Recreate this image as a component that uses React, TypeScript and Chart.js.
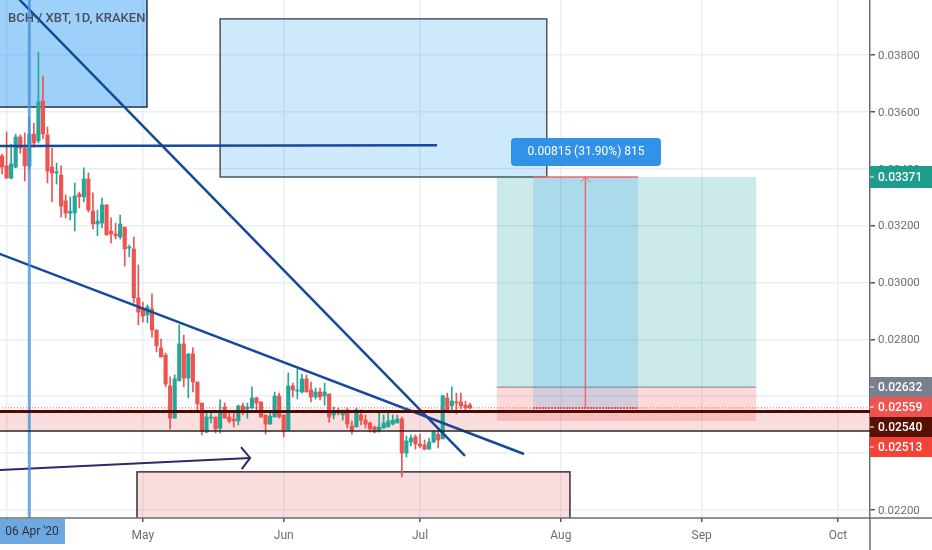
import { useEffect, useRef } from "react";
import { Chart, registerables } from "chart.js";

Chart.register(...registerables);

// days are counted from 1 Apr 2020, first candle is 31 Mar
const firstDay = -1;
const opens = [0.03445,0.0341,0.03367,0.03406,0.03512,0.03473,0.0341,0.03522,0.03498,0.03638,0.03519,0.03406,0.03385,0.03378,0.03287,0.03244,0.03244,0.03311,0.03301,0.03364,0.03251,0.03206,0.03209,0.03273,0.03181,0.03171,0.0316,0.03195,0.03121,0.03118,0.02946,0.0291,0.02886,0.02907,0.02833,0.0277,0.02745,0.02636,0.02523,0.02654,0.02784,0.02664,0.02749,0.0265,0.02576,0.02474,0.02523,0.02527,0.02488,0.02562,0.02527,0.0252,0.02513,0.02566,0.02555,0.02559,0.02594,0.0258,0.02534,0.02502,0.02527,0.02601,0.02534,0.02481,0.02636,0.02618,0.02615,0.02661,0.02622,0.02597,0.02615,0.02601,0.02608,0.02534,0.02545,0.02534,0.02552,0.02495,0.02492,0.02534,0.02516,0.02506,0.02492,0.02478,0.02488,0.02492,0.02502,0.02506,0.0252,0.024,0.02439,0.02457,0.02432,0.02429,0.02414,0.02439,0.02467,0.0245,0.02594,0.02566,0.0258,0.0258,0.02569,0.02569];
const highs = [0.03452,0.03529,0.03487,0.03522,0.03519,0.03526,0.03582,0.03561,0.0381,0.03726,0.03547,0.03473,0.0342,0.0341,0.03308,0.03301,0.0335,0.03318,0.03403,0.03385,0.03315,0.03255,0.03297,0.03273,0.03227,0.03209,0.03237,0.03195,0.03132,0.0316,0.03062,0.02931,0.02921,0.0296,0.02833,0.02801,0.02752,0.02668,0.02675,0.02851,0.02815,0.02749,0.0277,0.0265,0.02576,0.02541,0.02541,0.02527,0.02587,0.02576,0.02541,0.02541,0.02569,0.02576,0.02576,0.02633,0.02597,0.0258,0.02534,0.02548,0.02615,0.02611,0.02534,0.02682,0.02646,0.02696,0.02678,0.02675,0.0265,0.02629,0.02629,0.02646,0.02608,0.02562,0.02559,0.02552,0.02559,0.02513,0.02559,0.02552,0.02534,0.02509,0.02495,0.02541,0.02534,0.02541,0.02534,0.02534,0.02527,0.0246,0.02464,0.02464,0.02467,0.02446,0.02453,0.02478,0.02478,0.02604,0.02611,0.02633,0.02611,0.02611,0.02583,0.02576];
const lows = [0.03382,0.03367,0.03364,0.03403,0.03455,0.03357,0.03396,0.03476,0.03491,0.03505,0.0335,0.03283,0.03346,0.0323,0.03227,0.0322,0.03181,0.03262,0.03283,0.03248,0.03188,0.03164,0.03192,0.03167,0.03139,0.03153,0.03153,0.03058,0.0309,0.02928,0.02851,0.02861,0.02858,0.02808,0.02756,0.02738,0.02633,0.02485,0.02523,0.02654,0.02633,0.02594,0.02615,0.02545,0.02464,0.02471,0.02506,0.02471,0.02471,0.02523,0.02506,0.02492,0.02499,0.02534,0.02523,0.02555,0.02548,0.02527,0.02467,0.02502,0.02527,0.02523,0.02457,0.02481,0.02597,0.0259,0.02611,0.02615,0.0258,0.0259,0.02587,0.02569,0.02509,0.0252,0.02534,0.02516,0.02488,0.02467,0.02492,0.02499,0.02488,0.02474,0.02471,0.02474,0.02488,0.02492,0.02499,0.02506,0.02316,0.02386,0.02425,0.02414,0.02418,0.02411,0.02414,0.02436,0.02418,0.0245,0.02552,0.02552,0.02538,0.02555,0.02552,0.02555];
const closes = [0.03406,0.03367,0.03417,0.03512,0.03473,0.0341,0.03522,0.03491,0.03635,0.03522,0.03392,0.03385,0.03389,0.03269,0.03244,0.03251,0.03304,0.03301,0.03364,0.03255,0.03206,0.03216,0.03273,0.03167,0.03171,0.03164,0.03206,0.03118,0.03125,0.02946,0.02896,0.02882,0.02914,0.02833,0.02777,0.02738,0.02643,0.02523,0.02661,0.02784,0.02664,0.02749,0.0265,0.02573,0.02478,0.02527,0.02527,0.02485,0.02548,0.02523,0.02513,0.02513,0.02566,0.02548,0.02562,0.02594,0.02576,0.02527,0.02502,0.0253,0.02601,0.02527,0.02481,0.02636,0.02622,0.02622,0.02661,0.02615,0.02597,0.02615,0.02597,0.02615,0.02527,0.02548,0.02541,0.02548,0.02502,0.02478,0.02552,0.02516,0.02502,0.02485,0.02474,0.02492,0.02506,0.02513,0.02516,0.0252,0.024,0.02443,0.02453,0.02432,0.02425,0.02414,0.02439,0.02474,0.02446,0.02601,0.02552,0.02583,0.02576,0.02566,0.02559,0.02559];

const monthDays = [0, 30, 61, 91, 122, 153, 183];
const monthNames = ["Apr", "May", "Jun", "Jul", "Aug", "Sep", "Oct"];
const priceTicks = [0.022, 0.024, 0.026, 0.028, 0.03, 0.032, 0.034, 0.036, 0.038];

const trendSteep = [[1.85, 0.04011], [100.9, 0.0239]];
const trendFlat = [[-2.55, 0.03107], [113.9, 0.02397]];
const levelLine = [[-2.55, 0.0348], [94.75, 0.03483]];
const arrowShaft = [[-2.55, 0.0234], [53.6, 0.02383]];
const arrowHead = [[51.6, 0.02421], [53.6, 0.02383], [51.75, 0.02344]];
const markerDay = [[5, 0.0405], [5, 0.0212]];
const lastPriceLine = [[-3, 0.02559], [192, 0.02559]];
const bandTop = [[-3, 0.02546], [192, 0.02546]];
const bandBottom = [[-3, 0.02478], [192, 0.02478]];
const positionMid = [[107.9, 0.02632], [165, 0.02632]];
const rangeTop = [[115.9, 0.03371], [139, 0.03371]];
const rangeBottom = [[115.9, 0.02559], [139, 0.02559]];
const rangeShaft = [[127.4, 0.02559], [127.4, 0.03371]];
const rangeHead = [[126.4, 0.03353], [127.4, 0.03371], [128.6, 0.03353]];

// [day from, day to, price top, price bottom]
const boxTopLeft = [-3, 30.9, 0.0405, 0.03617];
const boxBlue = [47, 118.9, 0.03927, 0.03371];
const boxPink = [28.7, 124, 0.02334, 0.0212];
const boxBand = [-3, 192, 0.02546, 0.02478];
const boxProfit = [107.9, 165, 0.03371, 0.02632];
const boxStop = [107.9, 165, 0.02632, 0.02513];
const boxRange = [115.9, 139, 0.03371, 0.02559];

const UP = "#26a69a";
const DOWN = "#ef5350";
const FONT = "Roboto";

const toPoints = (pts: number[][]) => pts.map(([x, y]) => ({ x, y }));

const line = (pts: number[][], color: string, width: number, dash: number[] = []) => ({
  type: "line" as const,
  data: toPoints(pts),
  borderColor: color,
  borderWidth: width,
  borderDash: dash,
  pointRadius: 0,
  tension: 0,
  fill: false,
  order: 0,
});

const overlayPlugin = {
  id: "overlays",
  beforeDatasetsDraw(chart: any) {
    const { ctx, chartArea: a, scales } = chart;
    const box = (b: number[], fill: string, stroke?: string, lw = 1.5) => {
      const x = scales.x.getPixelForValue(b[0]);
      const w = scales.x.getPixelForValue(b[1]) - x;
      const y = scales.y.getPixelForValue(b[2]);
      const h = scales.y.getPixelForValue(b[3]) - y;
      ctx.fillStyle = fill;
      ctx.fillRect(x, y, w, h);
      if (stroke) {
        ctx.strokeStyle = stroke;
        ctx.lineWidth = lw;
        ctx.strokeRect(x, y, w, h);
      }
    };
    ctx.save();
    ctx.beginPath();
    ctx.rect(a.left, a.top, a.width, a.height);
    ctx.clip();
    box(boxBand, "rgba(231,100,100,0.22)");
    box(boxPink, "rgba(231,100,100,0.22)", "#33303a");
    box(boxTopLeft, "rgba(33,150,243,0.44)", "#2a2e39");
    box(boxBlue, "rgba(33,150,243,0.22)", "#50535e");
    box(boxProfit, "rgba(0,150,136,0.2)");
    box(boxStop, "rgba(244,67,54,0.2)");
    box(boxRange, "rgba(33,150,243,0.2)");
    ctx.restore();
  },
  afterDraw(chart: any) {
    const { ctx, chartArea: a } = chart;
    ctx.save();
    ctx.textBaseline = "middle";

    // axis lines run on past the plot area
    ctx.strokeStyle = "#6a6d78";
    ctx.lineWidth = 1.5;
    ctx.beginPath();
    ctx.moveTo(0, a.bottom);
    ctx.lineTo(932, a.bottom);
    ctx.moveTo(a.right, a.bottom);
    ctx.lineTo(a.right, 550);
    ctx.stroke();

    ctx.font = `500 13px ${FONT}`;
    ctx.fillStyle = "#4a4e5c";
    ctx.fillText("BCH / XBT, 1D, KRAKEN", 8, 18.5);

    // price badges, pushed apart the way the axis stacks them
    const badges: [string, string, number, number][] = [
      ["0.03371", "#1e9e8a", 166, 22],
      ["0.02632", "#787f8e", 377, 20],
      ["0.02559", "#ef5350", 397, 20],
      ["0.02540", "#561104", 417, 20],
      ["0.02513", "#f44336", 437, 20],
    ];
    ctx.font = `500 12px ${FONT}`;
    badges.forEach(([text, bg, top, h]) => {
      ctx.fillStyle = bg;
      ctx.fillRect(a.right, top, 932 - a.right, h);
      ctx.fillStyle = "#fff";
      ctx.fillRect(a.right, top + h / 2 - 0.5, 4, 1);
      ctx.fillText(text, 878, top + h / 2 + 0.5);
    });

    ctx.fillStyle = "#6ea8e0";
    ctx.fillRect(0, a.bottom + 1, 65, 25);
    ctx.fillStyle = "#2f3340";
    ctx.font = `12px ${FONT}`;
    ctx.textAlign = "center";
    ctx.fillText("06 Apr '20", 32, 532);

    ctx.fillStyle = "#3291e8";
    ctx.beginPath();
    ctx.roundRect(511, 138, 150, 28, 4);
    ctx.fill();
    ctx.fillStyle = "#fff";
    ctx.fillText("0.00815 (31.90%) 815", 586, 152);
    ctx.restore();
  },
};

export default function App() {
  const canvasRef = useRef<HTMLCanvasElement>(null);

  useEffect(() => {
    if (!canvasRef.current) return;
    const days = opens.map((_, i) => firstDay + i);
    const colors = opens.map((o, i) => (closes[i] >= o ? UP : DOWN));

    const chart = new Chart(canvasRef.current, {
      type: "bar",
      data: {
        datasets: [
          {
            data: days.map((d, i) => ({ x: d, y: [lows[i], highs[i]] })),
            backgroundColor: colors,
            barThickness: 1,
            grouped: false,
            order: 2,
          },
          {
            data: days.map((d, i) => ({ x: d, y: [opens[i], closes[i]] })),
            backgroundColor: colors,
            barThickness: 3.5,
            minBarLength: 1,
            grouped: false,
            order: 1,
          },
          line(bandTop, "#4a0c04", 3),
          line(bandBottom, "#2a2426", 1.5),
          line(lastPriceLine, DOWN, 1, [1, 2]),
          line(positionMid, "#787f8e", 1),
          line(rangeTop, "#f0686a", 1.5),
          line(rangeBottom, "#f0484a", 2, [2, 1]),
          line(rangeShaft, "#f0686a", 1.5),
          line(rangeHead, "#f0686a", 1),
          line(markerDay, "rgba(70,145,222,0.78)", 3),
          line(levelLine, "#14499b", 2.5),
          line(trendSteep, "#14499b", 2.5),
          line(trendFlat, "#14499b", 2.5),
          line(arrowShaft, "#34266a", 2),
          line(arrowHead, "#34266a", 2),
        ] as any,
      },
      options: {
        responsive: false,
        animation: false,
        layout: { padding: 0 },
        plugins: { legend: { display: false }, tooltip: { enabled: false } },
        scales: {
          x: {
            type: "linear",
            offset: false,
            min: -1.453,
            max: 190.05,
            grid: { offset: false, color: "#e8eff6", lineWidth: 1.5, tickColor: "#50535e", tickLength: 4 },
            border: { display: false },
            afterBuildTicks: (s: any) => {
              s.ticks = monthDays.map((value) => ({ value }));
            },
            afterFit: (s: any) => {
              s.height = 32;
              s.paddingLeft = 0;
              s.paddingRight = 0;
            },
            ticks: {
              autoSkip: false,
              maxRotation: 0,
              padding: 7,
              color: "#6a6d78",
              font: { family: FONT, size: 12 },
              callback: (v: any) => monthNames[monthDays.indexOf(v)] ?? "",
            },
          },
          y: {
            position: "right",
            min: 0.021718,
            max: 0.039934,
            grid: { color: "#e8eff6", lineWidth: 1.5, tickColor: "#50535e", tickLength: 5 },
            border: { color: "#6a6d78", width: 1.5 },
            afterBuildTicks: (s: any) => {
              s.ticks = priceTicks.map((value) => ({ value }));
            },
            afterFit: (s: any) => {
              s.width = 62;
              s.paddingTop = 0;
              s.paddingBottom = 0;
            },
            ticks: {
              padding: 3,
              labelOffset: 1,
              color: "#6a6d78",
              font: { family: FONT, size: 11.5 },
              callback: (v: any) => Number(v).toFixed(5),
            },
          },
        },
      },
      plugins: [overlayPlugin],
    });

    return () => chart.destroy();
  }, []);

  return (
    <div style={{ position: "absolute", left: 0, top: 0, width: 932, height: 550, background: "#fff" }}>
      <canvas ref={canvasRef} width={932} height={550} style={{ display: "block" }} />
    </div>
  );
}
